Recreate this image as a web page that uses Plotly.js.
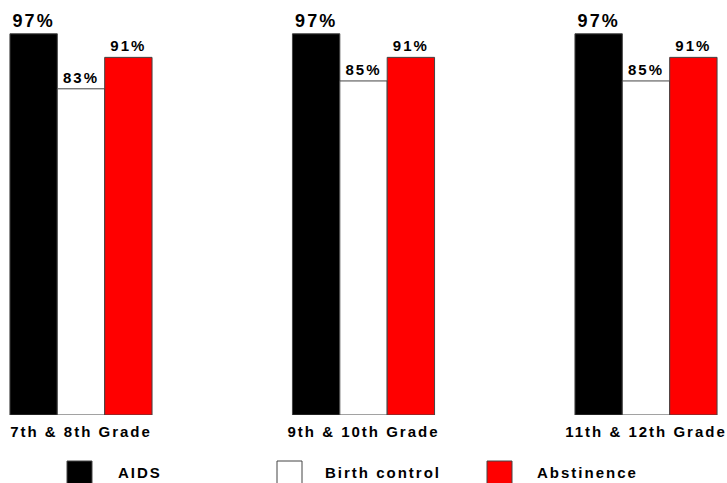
<!DOCTYPE html>
<html>
<head>
<meta charset="utf-8">
<script src="https://cdn.plot.ly/plotly-3.0.1.min.js"></script>
<style>
  html, body { margin: 0; padding: 0; background: #fff; }
  #chart { width: 727px; height: 483px; }
  #chart svg text { letter-spacing: 2px; }
</style>
</head>
<body>
<div id="chart"></div>
<script>
// ---- data ----
var categories = ["7th & 8th Grade", "9th & 10th Grade", "11th & 12th Grade"];
var seriesNames = ["AIDS", "Birth control", "Abstinence"];
var aids = [97, 97, 97];
var birthControl = [83, 85, 85];
var abstinence = [91, 91, 91];

// ---- styles ----
var FONT = "Liberation Sans, Arial, sans-serif";
var colors = ["#000000", "#ffffff", "#ff0000"];
var labelSizes = [18, 15, 15];
var seriesValues = [aids, birthControl, abstinence];

var W = 727, H = 483;
var M = {l: 0, r: 0, t: 22, b: 68};
var plotH = H - M.t - M.b;

var traces = seriesValues.map(function (vals, i) {
  return {
    type: "bar",
    name: seriesNames[i],
    x: categories,
    y: vals,
    marker: {color: colors[i], line: {color: "#444444", width: 1}},
    texttemplate: "%{y}%",
    textposition: "outside",
    cliponaxis: false,
    constraintext: "none",
    textfont: {family: FONT, size: labelSizes[i], color: "#000", weight: "bold"},
    showlegend: false,
    hoverinfo: "skip"
  };
});

// custom legend drawn in paper coordinates
function px2x(px) { return (px - M.l) / (W - M.l - M.r); }
function px2y(py) { return (H - M.b - py) / plotH; }
var swatchLeft = [67, 277, 487];
var textCenter = [140, 383, 587];
var shapes = [], annotations = [];
seriesNames.forEach(function (name, i) {
  shapes.push({
    type: "rect", xref: "paper", yref: "paper",
    x0: px2x(swatchLeft[i]), x1: px2x(swatchLeft[i] + 25),
    y0: px2y(484), y1: px2y(461),
    fillcolor: colors[i], line: {color: "#444444", width: 1}
  });
  annotations.push({
    xref: "paper", yref: "paper",
    x: px2x(textCenter[i]), y: px2y(473),
    xanchor: "center", yanchor: "middle",
    text: name, showarrow: false,
    font: {family: FONT, size: 15, color: "#000", weight: "bold"}
  });
});

var layout = {
  width: W, height: H,
  margin: M,
  paper_bgcolor: "#ffffff",
  plot_bgcolor: "#ffffff",
  barmode: "group",
  bargap: 0.497,
  bargroupgap: 0,
  showlegend: false,
  xaxis: {
    type: "category",
    range: [-0.2867, 2.2867],
    showgrid: false, zeroline: false, showline: false,
    ticks: "",
    ticklabelstandoff: 6,
    tickfont: {family: FONT, size: 15, color: "#000", weight: "bold"},
    fixedrange: true
  },
  yaxis: {
    range: [0, 100],
    visible: false,
    showgrid: false, zeroline: false,
    fixedrange: true
  },
  shapes: shapes,
  annotations: annotations
};

Plotly.newPlot("chart", traces, layout, {displayModeBar: false, staticPlot: true});
</script>
</body>
</html>
